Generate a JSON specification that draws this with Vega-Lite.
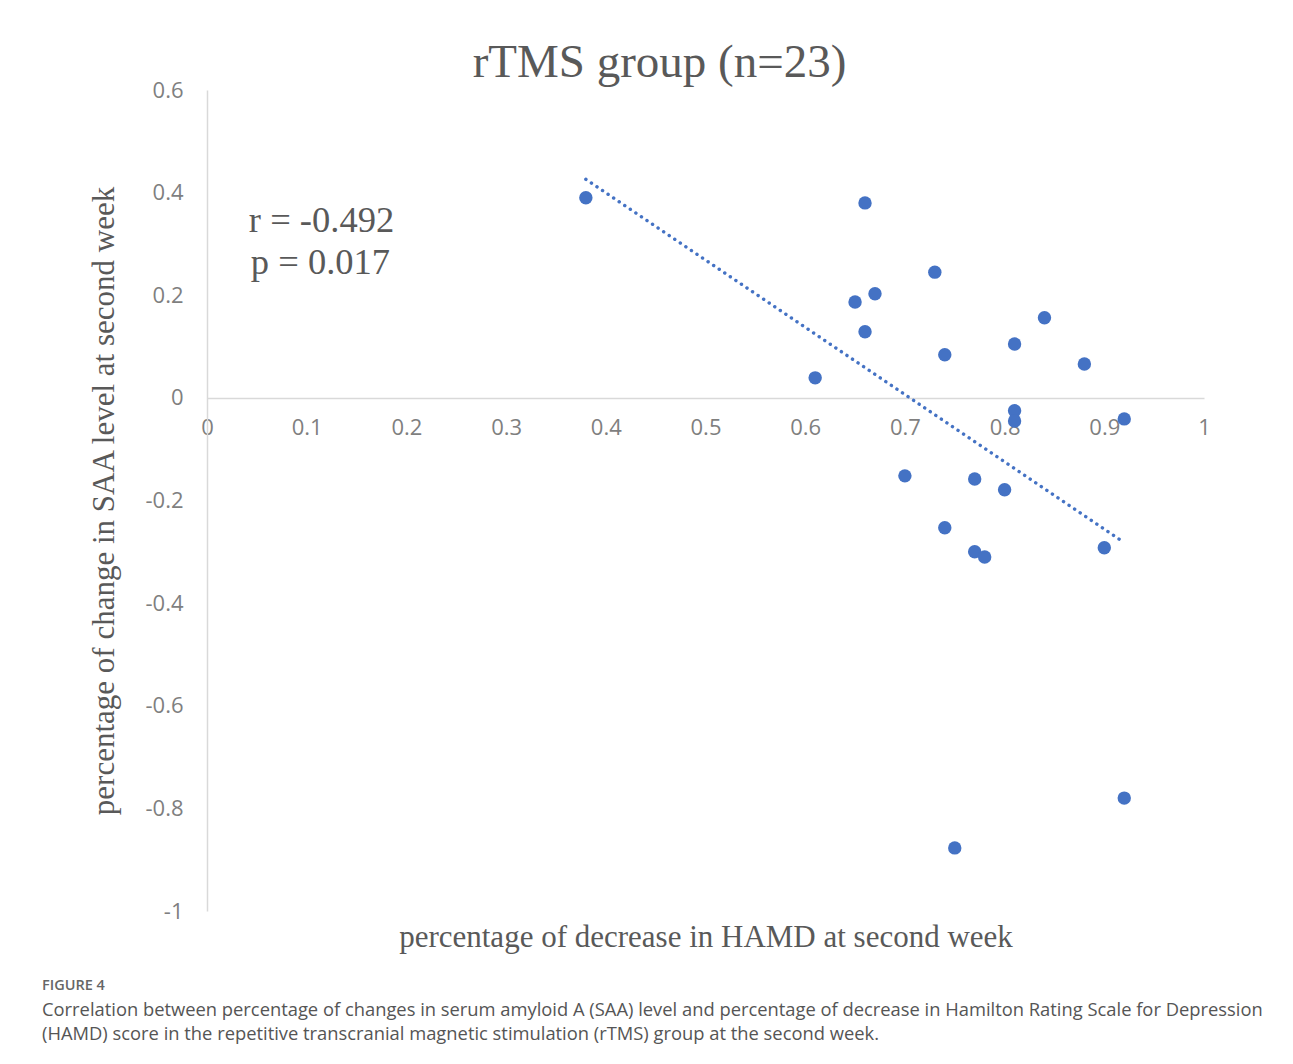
{
  "$schema": "https://vega.github.io/schema/vega-lite/v6.json",
  "background": "white",
  "padding": {"left": 42, "top": 39, "right": 10, "bottom": 10},
  "config": {"view": {"stroke": null}, "font": "Open Sans"},
  "datasets": {
    "points": [
      {"x": 0.38, "y": 0.39},
      {"x": 0.66, "y": 0.38},
      {"x": 0.73, "y": 0.245},
      {"x": 0.67, "y": 0.203},
      {"x": 0.65, "y": 0.187},
      {"x": 0.84, "y": 0.156},
      {"x": 0.66, "y": 0.129},
      {"x": 0.81, "y": 0.105},
      {"x": 0.74, "y": 0.084},
      {"x": 0.88, "y": 0.066},
      {"x": 0.61, "y": 0.039},
      {"x": 0.81, "y": -0.025},
      {"x": 0.81, "y": -0.045},
      {"x": 0.92, "y": -0.041},
      {"x": 0.70, "y": -0.152},
      {"x": 0.77, "y": -0.158},
      {"x": 0.80, "y": -0.179},
      {"x": 0.74, "y": -0.253},
      {"x": 0.77, "y": -0.300},
      {"x": 0.78, "y": -0.310},
      {"x": 0.90, "y": -0.292},
      {"x": 0.92, "y": -0.780},
      {"x": 0.75, "y": -0.877}
    ],
    "trend": [
      {"x": 0.38, "y": 0.426},
      {"x": 0.917, "y": -0.278}
    ],
    "notes": [
      {"x": 0.042, "y": 0.324, "label": "r = -0.492"},
      {"x": 0.044, "y": 0.242, "label": "p = 0.017"}
    ]
  },
  "title": {
    "text": "FIGURE 4",
    "subtitle": [
      "Correlation between percentage of changes in serum amyloid A (SAA) level and percentage of decrease in Hamilton Rating Scale for Depression",
      "(HAMD) score in the repetitive transcranial magnetic stimulation (rTMS) group at the second week."
    ],
    "orient": "bottom",
    "anchor": "start",
    "frame": "bounds",
    "dx": -46,
    "offset": 27,
    "font": "Open Sans",
    "fontSize": 14.5,
    "fontWeight": 600,
    "color": "#666666",
    "subtitleFont": "Open Sans",
    "subtitleFontSize": 18.35,
    "subtitleColor": "#555555",
    "subtitleLineHeight": 24,
    "subtitlePadding": 8
  },
  "vconcat": [
    {
      "width": 997,
      "height": 821,
      "title": {
        "text": "rTMS group (n=23)",
        "font": "Liberation Serif",
        "fontSize": 47,
        "fontWeight": "normal",
        "color": "#595959",
        "anchor": "middle",
        "dx": -46,
        "offset": -8
      },
      "encoding": {
        "x": {
          "field": "x",
          "type": "quantitative",
          "scale": {"domain": [0, 1], "nice": false, "zero": false},
          "axis": {
            "orient": "bottom",
            "offset": -513,
            "values": [0, 0.1, 0.2, 0.3, 0.4, 0.5, 0.6, 0.7, 0.8, 0.9, 1],
            "labelExpr": "replace(format(datum.value, '~g'), '−', '-')",
            "ticks": false,
            "grid": false,
            "domainColor": "#d9d9d9",
            "domainWidth": 1.5,
            "labelFont": "Open Sans",
            "labelFontSize": 22,
            "labelColor": "#7f7f7f",
            "labelPadding": 19,
            "labelFlush": false,
            "labelOverlap": false,
            "title": "percentage of decrease in HAMD at second week",
            "titleFont": "Liberation Serif",
            "titleFontSize": 31,
            "titleFontWeight": "normal",
            "titleColor": "#595959",
            "titleY": 548,
            "titleBaseline": "alphabetic"
          }
        },
        "y": {
          "field": "y",
          "type": "quantitative",
          "scale": {"domain": [-1, 0.6], "nice": false, "zero": false},
          "axis": {
            "values": [-1, -0.8, -0.6, -0.4, -0.2, 0, 0.2, 0.4, 0.6],
            "labelExpr": "replace(format(datum.value, '~g'), '−', '-')",
            "ticks": false,
            "grid": false,
            "domainColor": "#d9d9d9",
            "domainWidth": 1.5,
            "labelFont": "Open Sans",
            "labelFontSize": 22,
            "labelColor": "#7f7f7f",
            "labelPadding": 24,
            "labelFlush": false,
            "labelOverlap": false,
            "title": "percentage of change in SAA level at second week",
            "titleFont": "Liberation Serif",
            "titleFontSize": 31,
            "titleFontWeight": "normal",
            "titleColor": "#595959",
            "titleX": -94,
            "titleY": 410.5,
            "titleAngle": -90,
            "titleAlign": "center",
            "titleBaseline": "alphabetic"
          }
        }
      },
      "layer": [
        {
          "data": {"name": "trend"},
          "mark": {"type": "line", "color": "#4472c4", "strokeWidth": 3.4, "strokeDash": [0.1, 6.6], "strokeCap": "round"}
        },
        {
          "data": {"name": "points"},
          "mark": {"type": "circle", "size": 180, "opacity": 1, "color": "#4472c4"}
        },
        {
          "data": {"name": "notes"},
          "mark": {"type": "text", "align": "left", "baseline": "alphabetic", "font": "Liberation Serif", "fontSize": 36.5, "color": "#595959"},
          "encoding": {"text": {"field": "label", "type": "nominal"}}
        }
      ]
    }
  ]
}
